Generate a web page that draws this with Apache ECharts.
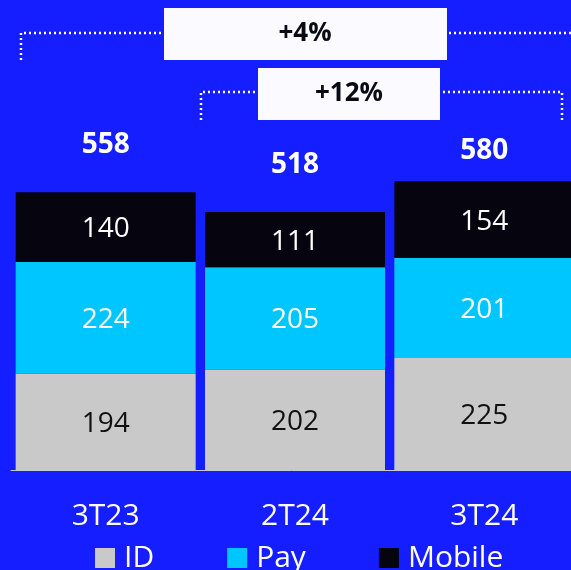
<!DOCTYPE html>
<html>
<head>
<meta charset="utf-8">
<script src="https://cdn.jsdelivr.net/npm/echarts@6/dist/echarts.min.js"></script>
<style>
  html, body { margin: 0; padding: 0; background: #141EFF; }
  #chart { width: 571px; height: 570px; }
</style>
</head>
<body>
<div id="chart"></div>
<script>
var categories = ['3T23', '2T24', '3T24'];
var idValues = [194, 202, 225];
var payValues = [224, 205, 201];
var mobileValues = [140, 111, 154];
var totals = [558, 518, 580];
var growthLabels = ['+4%', '+12%'];

var font = 'Open Sans';
var chart = echarts.init(document.getElementById('chart'));

function segLabel(color) {
  return {
    show: true,
    position: 'inside',
    offset: [0, 2],
    color: color,
    textBorderWidth: 0,
    fontFamily: font,
    fontSize: 28
  };
}

var dotted = { stroke: '#FFFFFF', lineWidth: 2.5, lineDash: [2, 3] };

var option = {
  backgroundColor: '#141EFF',
  animation: false,
  grid: { left: 11, right: -8, top: 2, bottom: 100, outerBoundsMode: 'none' },
  legend: {
    data: ['ID', 'Pay', 'Mobile'],
    left: 90,
    top: 538,
    itemWidth: 20,
    itemHeight: 20,
    itemGap: 73,
    icon: 'rect',
    textStyle: { color: '#FFFFFF', fontFamily: font, fontSize: 30, lineHeight: 30, padding: [0, 0, 0, 4] }
  },
  xAxis: {
    type: 'category',
    data: categories,
    axisTick: { show: false },
    axisLine: { lineStyle: { color: '#C8C8D8', width: 1 } },
    axisLabel: { color: '#FFFFFF', fontFamily: font, fontSize: 30, lineHeight: 30, margin: 31 }
  },
  yAxis: {
    type: 'value',
    min: 0,
    max: 940,
    show: false,
    splitLine: { show: false }
  },
  series: [
    {
      name: 'ID', type: 'bar', stack: 'total', barWidth: 180,
      itemStyle: { color: '#C9C9C9' },
      label: segLabel('#111111'),
      data: idValues
    },
    {
      name: 'Pay', type: 'bar', stack: 'total',
      itemStyle: { color: '#00C6FF' },
      label: segLabel('#FFFFFF'),
      data: payValues
    },
    {
      name: 'Mobile', type: 'bar', stack: 'total',
      itemStyle: { color: '#05040F' },
      label: segLabel('#FFFFFF'),
      data: mobileValues
    },
    {
      name: 'Total', type: 'scatter', symbolSize: 0, silent: true,
      itemStyle: { color: '#FFFFFF', opacity: 1 },
      label: {
        show: true,
        position: 'inside',
        color: '#FFFFFF',
        textBorderWidth: 0,
        fontFamily: font,
        fontWeight: 'bold',
        fontSize: 28
      },
      data: totals.map(function (v, i) {
        return { value: v, label: { offset: [0, i === 2 ? -30 : -47] } };
      })
    }
  ],
  graphic: [
    { type: 'polyline', shape: { points: [[21, 60], [21, 33], [580, 33]] }, style: dotted },
    { type: 'rect', shape: { x: 164, y: 8, width: 283, height: 52 }, style: { fill: '#FBFAFF' } },
    { type: 'text', x: 305, y: 34, style: { text: growthLabels[0], fill: '#0A0A14', font: 'bold 26px "Open Sans"', align: 'center', verticalAlign: 'middle' } },
    { type: 'polyline', shape: { points: [[201, 120], [201, 92], [562, 92], [562, 120]] }, style: dotted },
    { type: 'rect', shape: { x: 258, y: 68, width: 182, height: 52 }, style: { fill: '#FBFAFF' } },
    { type: 'text', x: 349, y: 94, style: { text: growthLabels[1], fill: '#0A0A14', font: 'bold 26px "Open Sans"', align: 'center', verticalAlign: 'middle' } }
  ]
};

chart.setOption(option);
</script>
</body>
</html>
